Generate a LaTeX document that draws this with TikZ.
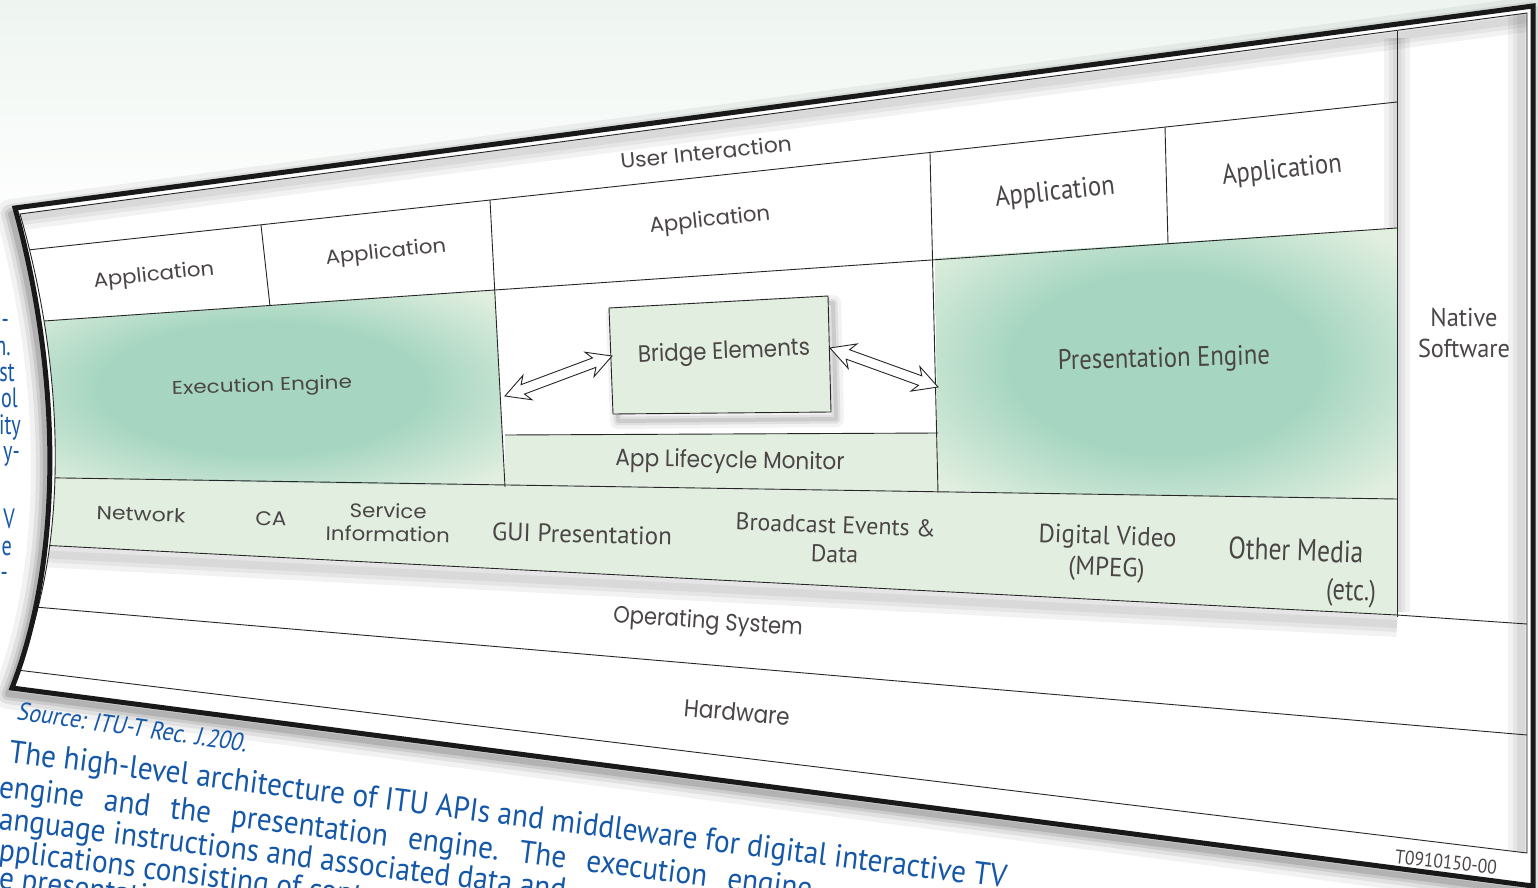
\documentclass[tikz,border=0pt]{standalone}
\usepackage{fontspec}
\setmainfont{Poppins}
\newfontfamily\condfont{PT Sans}
\newfontfamily\srcfont[FakeSlant=0.2]{PT Sans}
\usetikzlibrary{calc}
\definecolor{txt}{HTML}{4B4646}
\definecolor{capblue}{HTML}{1558A8}
\definecolor{lg}{HTML}{E2EFE0}
\definecolor{glow}{HTML}{A6D6C1}
\definecolor{bg}{HTML}{EEF5F0}
\newcommand\fitbox[3]{\resizebox{#1pt}{#2pt}{#3}}
\newcommand\fitall[3]{\resizebox*{#1pt}{#2pt}{#3}}
\newcommand\twol[2]{\begin{tabular}{@{}c@{}}#1\\#2\end{tabular}}
\newcommand\blu[1]{\scalebox{0.72}[1]{\condfont\fontsize{28}{28}\selectfont #1}}
\newlength\capw
\newcommand\capline[1]{\scalebox{\capsx}[1]{\condfont\fontsize{32}{32}\selectfont #1}}
\pgfdeclareradialshading{glowsh}{\pgfpoint{0bp}{0bp}}{color(0bp)=(glow); color(17bp)=(glow); color(33bp)=(lg); color(50bp)=(lg)}
\newcommand\dblarrow[2]{%
  \draw[arrowsty] (#1)
   -- ($(#1)!24pt!(#2)!13pt!90:(#2)$) -- ($(#1)!19pt!(#2)!5pt!90:(#2)$)
   -- ($(#2)!19pt!(#1)!5pt!-90:(#1)$) -- ($(#2)!24pt!(#1)!13pt!-90:(#1)$)
   -- (#2)
   -- ($(#2)!24pt!(#1)!13pt!90:(#1)$) -- ($(#2)!19pt!(#1)!5pt!90:(#1)$)
   -- ($(#1)!19pt!(#2)!5pt!-90:(#2)$) -- ($(#1)!24pt!(#2)!13pt!-90:(#2)$)
   -- cycle;}
\begin{document}
\settowidth{\capw}{\condfont\fontsize{32}{32}\selectfont The high-level architecture of ITU APIs and middleware for digital interactive TV}%
\pgfmathsetmacro{\capsx}{1005/\capw}%
\begin{tikzpicture}[x=1pt,y=-1pt,
  lab/.style={text=txt, inner sep=0pt, font=\fontsize{20}{24}\selectfont},
  clab/.style={text=txt, inner sep=0pt, font=\condfont\fontsize{20}{24}\selectfont},
  rule/.style={draw=black!85, line width=0.9pt},
  arrowsty/.style={draw=black!85, fill=white, line width=0.9pt, line join=miter},
  bluetxt/.style={text=capblue, inner sep=0pt},
  haze/.style={draw=black, opacity=0.05},
  frame/.style={draw=black!90, line width=5pt, line join=miter}]
\useasboundingbox (0,0) rectangle (1538,888);
\clip (0,0) rectangle (1538,888);
\fill[white] (0,0) rectangle (1538,888);
\shade[top color=bg, bottom color=white] (0,0) rectangle (1538,230);

% ---- card shadow
\begin{scope}[shift={(-4,6)}]
\foreach \w/\o in {30/0.05,20/0.07,12/0.09,6/0.12}
  \draw[black, line width=\w pt, opacity=\o, line join=round] (15,208) -- (1533,6) -- (1533,886) -- (12,688) .. controls (62,560) and (62,380) .. (15,208) -- cycle;
\end{scope}

% ---- blue text fragments on the left
\node[bluetxt, anchor=base east] (f1) at (9,328) {\blu{-}};
\node[bluetxt, anchor=base east] (f2) at (11,355) {\blu{n.}};
\node[bluetxt, anchor=base east] (f3) at (15,381) {\blu{st}};
\node[bluetxt, anchor=base east] (f4) at (18,407) {\blu{ol}};
\node[bluetxt, anchor=base east] (f5) at (21,434) {\blu{ity}};
\node[bluetxt, anchor=base east] (f6) at (20,460) {\blu{y-}};
\node[bluetxt, anchor=base east] (f7) at (15,528) {\blu{V}};
\node[bluetxt, anchor=base east] (f8) at (12,555) {\blu{e}};
\node[bluetxt, anchor=base east] (f9) at (8,581) {\blu{-}};

% ---- caption paragraph
\node[bluetxt, anchor=base west, rotate=-7.2] (cap1) at (8,762) {\capline{The high-level architecture of ITU APIs and middleware for digital interactive TV}};
\node[bluetxt, anchor=base west, rotate=-7.2] (cap2) at (-2,797) {\capline{engine\hspace{0.7em}and\hspace{0.7em}the\hspace{0.7em}presentation\hspace{0.7em}engine.\hspace{0.7em}The\hspace{0.7em}execution\hspace{0.7em}engine}};
\node[bluetxt, anchor=base west, rotate=-7.2] (cap3) at (-2,829) {\capline{anguage instructions and associated data and}};
\node[bluetxt, anchor=base west, rotate=-7.2] (cap4) at (-2,860) {\capline{pplications consisting of conte}};
\node[bluetxt, anchor=base west, rotate=-7.2] (cap5) at (-2,888) {\capline{e presentati}};

\fill[white] (15,208) -- (1533,6) -- (1533,886) -- (12,688) .. controls (62,560) and (62,380) .. (15,208) -- cycle;

% ---- named points
\coordinate (b1) at (609,308);
\coordinate (b2) at (828,296);
\coordinate (b3) at (831,412);
\coordinate (b4) at (613,414);
\coordinate (la) at (505,396);
\coordinate (lb) at (612,356);
\coordinate (ra) at (830,348);
\coordinate (rb) at (938,387);

% ---- panel contents
\begin{scope}
\clip (20,214) -- (1527,13) -- (1527,853) -- (17,670) .. controls (67,556) and (68,380) .. (20,214) -- cycle;
% soft inner shadows
\foreach \w in {26,16,8}{
  \draw[haze, line width=\w pt] (0,220) -- (1527,19);
  \draw[haze, line width=\w pt] (1521,13) -- (1521,853);
  \draw[haze, line width=\w pt] (0,552) -- (1397,624);
  \draw[haze, line width=\w pt] (1397,38) -- (1397,612);
}
\fill[lg] (0,477) -- (1397,499) -- (1397,615) -- (0,543) -- cycle;
\shade[shading=glowsh] (20,322.6) -- (495,290) -- (505,487) -- (20,477.3) -- cycle;
\shade[shading=glowsh] (935,258) -- (1397,228) -- (1397,499) -- (938,492) -- cycle;
\fill[lg] (505,435) -- (938,433) -- (938,492) -- (505,486) -- cycle;
\draw[rule] (0,253) -- (1397,102);
\draw[rule] (0,324) -- (1397,228);
\draw[rule] (0,477) -- (1397,499);
\draw[rule] (0,543) -- (1397,615) -- (1527,624);
\draw[rule] (0,604) -- (1527,735);
\draw[rule] (1397,31) -- (1397,617);
\draw[rule] (261,225) -- (270,306);
\draw[rule] (490,200) -- (505,487);
\draw[rule] (930,153) -- (938,493);
\draw[rule] (1165,127) -- (1168,244);
\draw[rule] (505,435) -- (938,433);
\end{scope}

% ---- bridge box and arrows
\begin{scope}[shift={(5,7)}]
\foreach \w/\o in {16/0.05,9/0.07,4/0.09}
  \draw[black, line width=\w pt, opacity=\o, line join=round] (609,308) -- (828,296) -- (831,412) -- (613,414) -- cycle;
\end{scope}
\filldraw[rule, fill=lg] (b1) -- (b2) -- (b3) -- (b4) -- cycle;
\dblarrow{la}{lb}
\dblarrow{ra}{rb}

% ---- frame
\draw[rule] (20,214) -- (1527,13) -- (1527,853) -- (17,670) .. controls (67,556) and (68,380) .. (20,214) -- cycle;
\draw[frame] (15,208) -- (1533,6) -- (1533,886) -- (12,688) .. controls (62,560) and (62,380) .. (15,208) -- cycle;

% ---- labels
\node[lab, rotate=6] (ui) at (706,152) {\fitbox{172}{16}{User Interaction}};
\node[lab, rotate=6] (app1) at (154,276) {\fitbox{121}{15}{Application}};
\node[lab, rotate=6] (app2) at (386,253) {\fitbox{121}{15}{Application}};
\node[lab, rotate=6] (app3) at (710,221) {\fitbox{121}{16}{Application}};
\node[clab, rotate=6] (app4) at (1055,193) {\fitbox{120}{20}{Application}};
\node[clab, rotate=6] (app5) at (1282,171) {\fitbox{120}{20}{Application}};
\node[lab, rotate=2] (exec) at (262,387) {\fitbox{180}{14}{Execution Engine}};
\node[lab, rotate=2.5] (bridge) at (724,353) {\fitbox{172}{18}{Bridge Elements}};
\node[lab, rotate=-1] (alm) at (730,462) {\fitbox{229}{18}{App Lifecycle Monitor}};
\node[clab, rotate=1.5] (pe) at (1164,360) {\fitbox{212}{20}{Presentation Engine}};
\node[clab] (native) at (1464,336) {\fitall{92}{62}{\twol{Native}{Software}}};
\node[lab, rotate=-2] (net) at (141,514) {\fitbox{89}{14}{Network}};
\node[lab, rotate=-1] (ca) at (271,519) {\fitbox{31}{14}{CA}};
\node[lab, rotate=-1] (si) at (388,525) {\fitall{124}{47}{\twol{Service}{Information}}};
\node[clab, rotate=-1.5] (gui) at (582,534) {\fitbox{180}{18}{GUI Presentation}};
\node[clab, rotate=-2] (bcast) at (835,542) {\fitall{200}{58}{\twol{Broadcast Events \&}{Data}}};
\node[clab, rotate=-2] (dv) at (1107,554) {\fitall{138}{63}{\twol{Digital Video}{(MPEG)}}};
\node[clab, rotate=-2] (om) at (1296,550) {\fitbox{135}{22}{Other Media}};
\node[clab, rotate=-2] (etc) at (1351,593) {\fitall{50}{28}{(etc.)}};
\node[lab, rotate=-4] (os) at (708,623) {\fitbox{190}{18}{Operating System}};
\node[lab, rotate=-5] (hw) at (737,712) {\fitbox{106}{18}{Hardware}};
\node[bluetxt, rotate=-8] (src) at (132,727) {\fitbox{232}{18}{\srcfont Source: ITU-T Rec. J.200.}};
\node[clab, rotate=-6] (tnum) at (1446,862) {\fitbox{102}{14}{T0910150-00}};
\end{tikzpicture}
\end{document}
